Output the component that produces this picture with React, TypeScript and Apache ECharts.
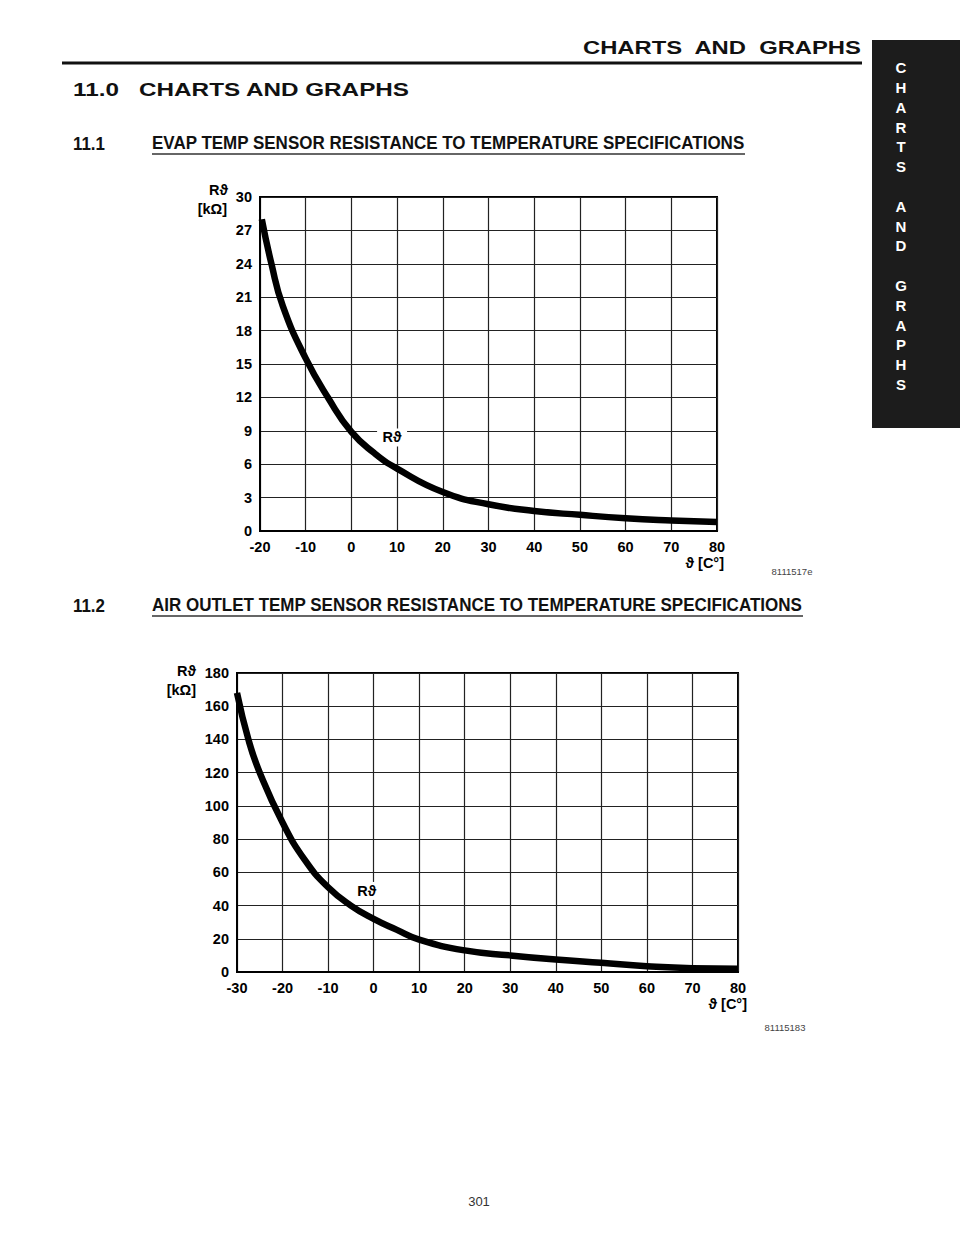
import React, { useEffect, useRef } from "react";
import * as echarts from "echarts";

// ---- data ----
const evapTemp = [-19.6, -17.5, -15, -10, -5, 0, 5, 10, 20, 30, 40, 50, 60, 70, 80];
const evapRes = [28, 24, 20.2, 15.5, 11.9, 8.9, 7.0, 5.6, 3.5, 2.4, 1.8, 1.45, 1.15, 0.95, 0.8];
const evapLabelPos = [8.9, 8.4];

const airTemp = [-30, -27.5, -25, -20, -15, -10, -5, 0, 5, 10, 20, 30, 40, 50, 60, 70, 80];
const airRes = [168, 140, 120, 90, 67, 51, 40, 32, 25.5, 19.5, 13, 10, 7.5, 5.5, 3.5, 2.3, 2];
const airLabelPos = [-1.5, 48.8];

const evapX = { min: -20, max: 80, interval: 10 };
const evapY = { min: 0, max: 30, interval: 3 };
const airX = { min: -30, max: 80, interval: 10 };
const airY = { min: 0, max: 180, interval: 20 };

const headerText = "CHARTS  AND  GRAPHS";
const sectionText = "11.0   CHARTS AND GRAPHS";
const title1Num = "11.1";
const title1 = "EVAP TEMP SENSOR RESISTANCE TO TEMPERATURE SPECIFICATIONS";
const title2Num = "11.2";
const title2 = "AIR OUTLET TEMP SENSOR RESISTANCE TO TEMPERATURE SPECIFICATIONS";
const tabLetters = "C\nH\nA\nR\nT\nS\n\nA\nN\nD\n\nG\nR\nA\nP\nH\nS";
const fig1Id = "8111517e";
const fig2Id = "81115183";
const pageNo = "301";

const FONT = "'Liberation Sans', Arial, Helvetica, sans-serif";

function measure(text: string, size: number, weight: string) {
  const c = document.createElement("canvas").getContext("2d");
  if (!c) return text.length * size * 0.6;
  c.font = `${weight} ${size}px ${FONT}`;
  return c.measureText(text).width;
}

function fitText(text: string, x: number, y: number, width: number, size: number, opts: any = {}) {
  const weight = opts.weight || "bold";
  const w = measure(text, size, weight);
  return {
    type: "text",
    x,
    y,
    scaleX: width / w,
    z: 10,
    style: {
      text,
      x: 0,
      y: 0,
      fill: opts.color || "#111",
      fontSize: size,
      fontWeight: weight,
      fontFamily: FONT,
      align: "left",
      verticalAlign: "middle",
    },
  };
}

function plainText(text: string, x: number, y: number, size: number, align: string, opts: any = {}) {
  return {
    type: "text",
    x,
    y,
    z: 10,
    style: {
      text,
      x: 0,
      y: 0,
      fill: opts.color || "#000",
      fontSize: size,
      fontWeight: opts.weight || "bold",
      fontFamily: FONT,
      align,
      verticalAlign: "middle",
      lineHeight: opts.lineHeight,
    },
  };
}

function makeAxis(gridIndex: number, r: { min: number; max: number; interval: number }) {
  return {
    type: "value",
    gridIndex,
    min: r.min,
    max: r.max,
    interval: r.interval,
    axisLine: { show: true, onZero: false, lineStyle: { color: "#000", width: 2 } },
    axisTick: { show: false },
    axisLabel: {
      color: "#000",
      fontSize: 14.5,
      fontWeight: "bold",
      fontFamily: FONT,
      margin: 8,
      showMinLabel: true,
      showMaxLabel: true,
    },
    splitLine: { show: true, lineStyle: { color: "#222", width: 1.2 } },
  };
}

function curveSeries(idx: number, xs: number[], ys: number[], labelPos: number[]) {
  return {
    type: "line",
    xAxisIndex: idx,
    yAxisIndex: idx,
    data: xs.map((t, i) => [t, ys[i]]),
    smooth: 0.5,
    symbol: "none",
    lineStyle: { color: "#000", width: 6.5, cap: "butt", join: "round" },
    z: 3,
    markPoint: {
      symbol: "rect",
      symbolSize: [30, 18],
      itemStyle: { color: "#fff" },
      label: {
        show: true,
        position: "inside",
        formatter: "R\u03d1",
        color: "#000",
        fontSize: 14.5,
        fontWeight: "bold",
        fontFamily: FONT,
      },
      data: [{ coord: labelPos }],
    },
  };
}

export default function App() {
  const ref = useRef<HTMLDivElement>(null);
  useEffect(() => {
    if (!ref.current) return;
    const chart = echarts.init(ref.current, undefined, { renderer: "svg" });
    const graphic: any[] = [
      // header
      fitText(headerText, 583, 48, 279, 19),
      { type: "rect", shape: { x: 62, y: 61.5, width: 800, height: 3 }, style: { fill: "#111" }, z: 10 },
      // side tab
      { type: "rect", shape: { x: 872, y: 40, width: 88, height: 388 }, style: { fill: "#1c1c1c" }, z: 9 },
      plainText(tabLetters, 901, 226, 15, "center", { color: "#fff", lineHeight: 19.8 }),
      // section heading
      fitText(sectionText, 73, 89, 337, 19),
      // title 1
      fitText(title1Num, 73, 144, 32, 18),
      fitText(title1, 152, 143, 593, 19),
      { type: "rect", shape: { x: 152, y: 153, width: 593, height: 2 }, style: { fill: "#666" }, z: 10 },
      // title 2
      fitText(title2Num, 73, 606, 32, 18),
      fitText(title2, 152, 605, 651, 19),
      { type: "rect", shape: { x: 152, y: 615, width: 651, height: 2 }, style: { fill: "#666" }, z: 10 },
      // chart 1 axis names
      plainText("R\u03d1", 228, 190, 14.5, "right"),
      plainText("[k\u03a9]", 227, 209, 14.5, "right"),
      plainText("\u03d1 [C\u00b0]", 724, 563, 14.5, "right"),
      // chart 2 axis names
      plainText("R\u03d1", 196, 671, 14.5, "right"),
      plainText("[k\u03a9]", 196, 690, 14.5, "right"),
      plainText("\u03d1 [C\u00b0]", 747, 1004, 14.5, "right"),
      // figure ids
      plainText(fig1Id, 792, 571, 9.5, "center", { weight: "normal", color: "#444" }),
      plainText(fig2Id, 785, 1027, 9.5, "center", { weight: "normal", color: "#444" }),
      // page number
      plainText(pageNo, 479, 1201, 13, "center", { weight: "normal", color: "#333" }),
    ];
    chart.setOption({
      animation: false,
      backgroundColor: "#fff",
      grid: [
        { left: 260, top: 197, width: 457, height: 334, show: true, borderColor: "#000", borderWidth: 2, containLabel: false },
        { left: 237, top: 673, width: 501, height: 299, show: true, borderColor: "#000", borderWidth: 2, containLabel: false },
      ],
      xAxis: [makeAxis(0, evapX), makeAxis(1, airX)],
      yAxis: [makeAxis(0, evapY), makeAxis(1, airY)],
      series: [curveSeries(0, evapTemp, evapRes, evapLabelPos), curveSeries(1, airTemp, airRes, airLabelPos)],
      graphic,
    });
    return () => chart.dispose();
  }, []);
  return (
    <div
      ref={ref}
      style={{ position: "absolute", left: 0, top: 0, width: 960, height: 1242, background: "#fff" }}
    />
  );
}
